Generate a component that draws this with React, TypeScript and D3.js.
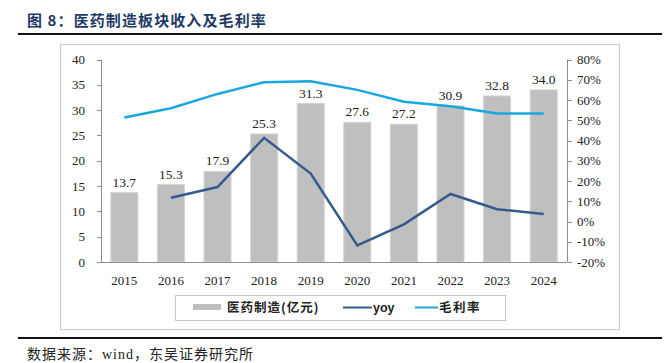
import React from "react";
import * as d3 from "d3";

const years = ["2015", "2016", "2017", "2018", "2019", "2020", "2021", "2022", "2023", "2024"];
const revenue = [13.7, 15.3, 17.9, 25.3, 31.3, 27.6, 27.2, 30.9, 32.8, 34.0];
const yoy: (number | null)[] = [null, 11.7, 17.0, 41.3, 23.7, -11.8, -1.4, 13.6, 6.1, 3.7];
const margin = [51.4, 55.9, 63.0, 68.8, 69.2, 65.0, 59.1, 56.9, 53.3, 53.3];
const leftTicks = [0, 5, 10, 15, 20, 25, 30, 35, 40];
const rightTicks = [-20, -10, 0, 10, 20, 30, 40, 50, 60, 70, 80];

const serif = "'Liberation Serif', 'Times New Roman', serif";
const cjk = "'Noto Sans CJK SC', sans-serif";

export default function App() {
  const W = 666, H = 363;
  const x0 = 101, x1 = 567, yTop = 59.5, yBot = 262;
  const x = d3.scaleBand<string>().domain(years).range([x0, x1]).paddingInner(0.42).paddingOuter(0.21);
  const yL = d3.scaleLinear().domain([0, 40]).range([yBot, yTop]);
  const yR = d3.scaleLinear().domain([-20, 80]).range([yBot, yTop]);
  const cx = (d: string) => (x(d) as number) + x.bandwidth() / 2;

  const yoyLine = d3.line<number | null>()
    .defined((d) => d !== null)
    .x((_, i) => cx(years[i]))
    .y((d) => yR(d as number));
  const marginLine = d3.line<number>()
    .x((_, i) => cx(years[i]))
    .y((d) => yR(d));

  const axisColor = "#8c8c8c";
  return (
    <svg width={W} height={H} style={{ position: "absolute", left: 0, top: 0, background: "#fff" }}>
      {/* title */}
      <text x={27} y={26} fontFamily={cjk} fontSize={15} fontWeight={700} letterSpacing={1.1} fill="#1f3a66">图 8：医药制造板块收入及毛利率</text>
      <rect x={18} y={33} width={644} height={2} fill="#111" />
      {/* frame */}
      <rect x={60.5} y={44.5} width={559} height={285} fill="none" stroke="#c8c8c8" strokeWidth={1} />
      {/* bars */}
      {years.map((yr, i) => (
        <rect key={yr} x={x(yr)} y={yL(revenue[i])} width={x.bandwidth()} height={yBot - yL(revenue[i])}
          fill="#bfbfbf" stroke="#d4d4d4" strokeWidth={1} />
      ))}
      {years.map((yr, i) => (
        <text key={"l" + yr} x={cx(yr)} y={yL(revenue[i]) - 6} textAnchor="middle" fontFamily={serif} fontSize={13.5} fill="#222">
          {revenue[i].toFixed(1)}
        </text>
      ))}
      {/* lines */}
      <path d={marginLine(margin) || ""} fill="none" stroke="#1aa7e0" strokeWidth={2.5} />
      <path d={yoyLine(yoy) || ""} fill="none" stroke="#355a8e" strokeWidth={2.5} />
      {/* left axis */}
      <line x1={x0 + 0.5} x2={x0 + 0.5} y1={yTop} y2={yBot} stroke={axisColor} />
      {leftTicks.map((t) => (
        <g key={"lt" + t}>
          <line x1={x0 - 4} x2={x0 + 0.5} y1={Math.round(yL(t)) + 0.5} y2={Math.round(yL(t)) + 0.5} stroke={axisColor} />
          <text x={85} y={yL(t) + 4.5} textAnchor="end" fontFamily={serif} fontSize={13} fill="#222">{t}</text>
        </g>
      ))}
      {/* right axis */}
      <line x1={x1 + 0.5} x2={x1 + 0.5} y1={yTop} y2={yBot} stroke={axisColor} />
      {rightTicks.map((t) => (
        <g key={"rt" + t}>
          <line x1={x1 + 0.5} x2={x1 + 5} y1={Math.round(yR(t)) + 0.5} y2={Math.round(yR(t)) + 0.5} stroke={axisColor} />
          <text x={577} y={yR(t) + 4.5} textAnchor="start" fontFamily={serif} fontSize={13} fill="#222">{t}%</text>
        </g>
      ))}
      {/* x axis */}
      <line x1={x0} x2={x1} y1={yBot + 0.5} y2={yBot + 0.5} stroke={axisColor} />
      {years.map((yr) => (
        <text key={"x" + yr} x={cx(yr)} y={285} textAnchor="middle" fontFamily={serif} fontSize={13} fill="#222">{yr}</text>
      ))}
      {/* legend */}
      <rect x={175.5} y={295.5} width={330} height={25} fill="#fff" stroke="#c8c8c8" />
      <rect x={193} y={304} width={28} height={6} fill="#bfbfbf" />
      <text x={227} y={312} fontFamily={cjk} fontSize={12.5} fontWeight={700} letterSpacing={1} fill="#222">医药制造(亿元)</text>
      <line x1={343} x2={372} y1={307.5} y2={307.5} stroke="#355a8e" strokeWidth={2} />
      <text x={373} y={312} fontFamily="'Liberation Sans', Arial, sans-serif" fontSize={12.5} fontWeight={700} fill="#222">yoy</text>
      <line x1={415} x2={438} y1={307.5} y2={307.5} stroke="#1aa7e0" strokeWidth={2} />
      <text x={439} y={312} fontFamily={cjk} fontSize={12.5} fontWeight={700} letterSpacing={1.5} fill="#222">毛利率</text>
      {/* bottom rule + source */}
      <rect x={18} y={337} width={644} height={2} fill="#111" />
      <text x={27} y={359} fontFamily={cjk} fontSize={14} letterSpacing={1} fill="#222">数据来源：<tspan fontFamily={serif}>wind</tspan>，东吴证券研究所</text>
    </svg>
  );
}
